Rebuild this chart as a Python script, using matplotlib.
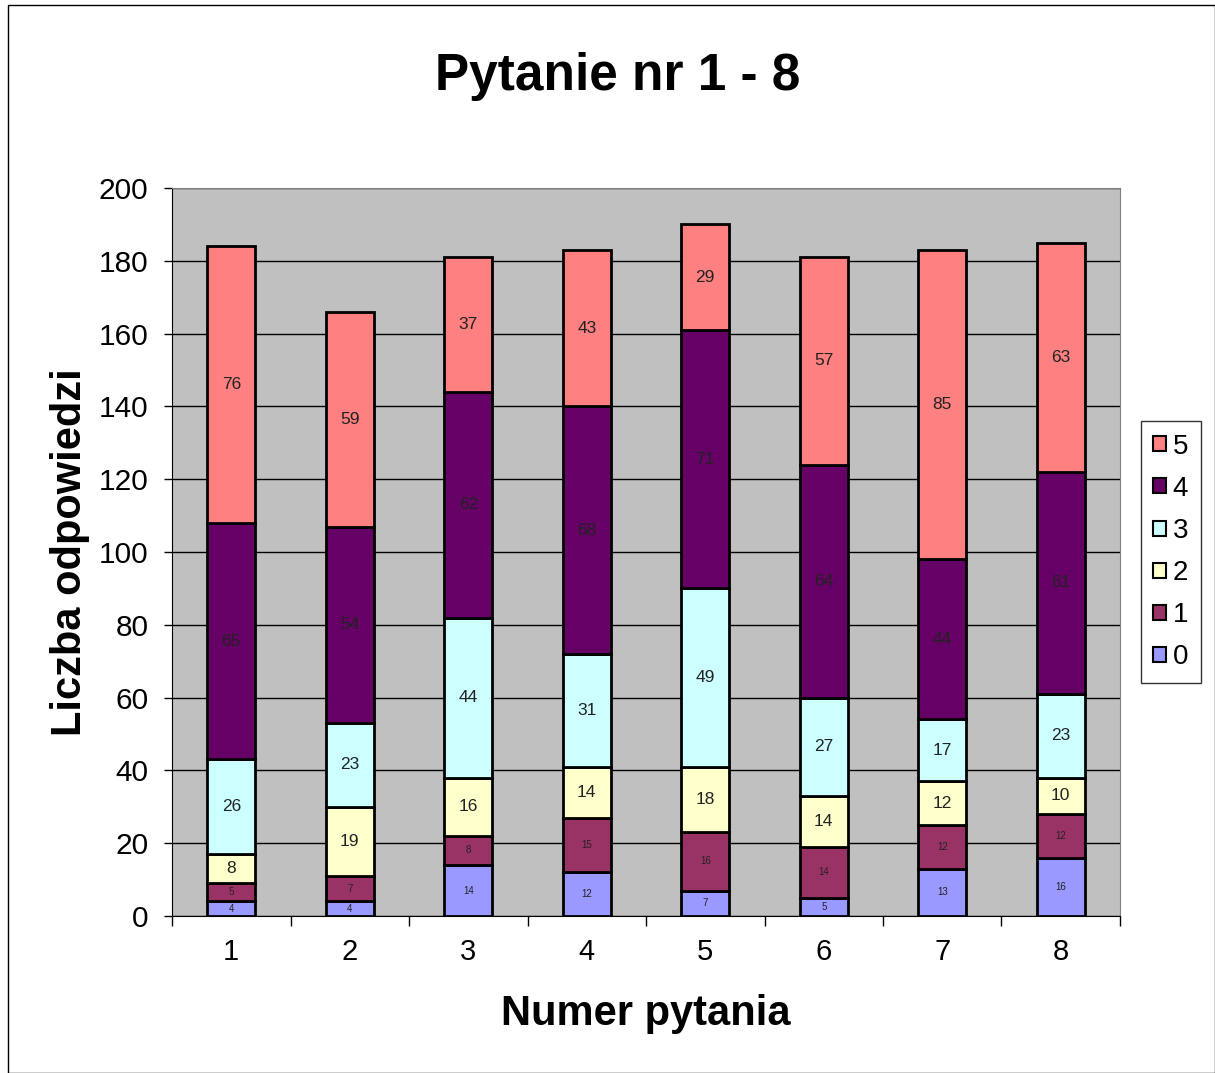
import matplotlib.pyplot as plt
import numpy as np
from matplotlib.patches import Rectangle

plt.rcParams['font.family'] = ['Liberation Sans', 'DejaVu Sans']

questions = ['1', '2', '3', '4', '5', '6', '7', '8']
answers = ['0', '1', '2', '3', '4', '5']
a0 = [4, 4, 14, 12, 7, 5, 13, 16]
a1 = [5, 7, 8, 15, 16, 14, 12, 12]
a2 = [8, 19, 16, 14, 18, 14, 12, 10]
a3 = [26, 23, 44, 31, 49, 27, 17, 23]
a4 = [65, 54, 62, 68, 71, 64, 44, 61]
a5 = [76, 59, 37, 43, 29, 57, 85, 63]
colors = ['#9999FF', '#993366', '#FFFFCC', '#CCFFFF', '#660066', '#FF8080']

series = [a0, a1, a2, a3, a4, a5]

fig = plt.figure(figsize=(12.15, 10.73), dpi=100)
ax = fig.add_axes([0.1416, 0.1463, 0.7802, 0.6785])
ax.set_facecolor('#C0C0C0')

x = np.arange(1, len(questions) + 1)
bottom = np.zeros(len(questions))
handles = []
for i, vals in enumerate(series):
    vals = np.array(vals)
    bars = ax.bar(x, vals, 0.405, bottom=bottom, color=colors[i],
                  edgecolor='black', linewidth=2, zorder=3, label=answers[i])
    handles.append(bars)
    size = 7 if i < 2 else 12.5
    for xi, b, v in zip(x, bottom, vals):
        ax.text(xi, b + v / 2, str(v), ha='center', va='center',
                fontsize=size, color='#222222', zorder=4)
    bottom += vals

ax.set_xlim(0.5, 8.5)
ax.set_ylim(0, 200)
ax.set_yticks(np.arange(0, 201, 20))
ax.yaxis.grid(True, color='black', linewidth=1, zorder=0)
ax.set_axisbelow(True)

ax.set_xticks(np.arange(0.5, 8.6, 1))
ax.set_xticklabels([])
ax.set_xticks(x, minor=True)
ax.set_xticklabels(questions, minor=True)
ax.tick_params(axis='x', which='major', length=7, width=1)
ax.tick_params(axis='x', which='minor', length=0, labelsize=21, pad=16)
ax.tick_params(axis='y', length=6, width=1, labelsize=21.5, pad=11)

for s in ['top', 'right']:
    ax.spines[s].set_color('#808080')
for s in ['left', 'bottom']:
    ax.spines[s].set_color('black')

ax.set_xlabel('Numer pytania', fontsize=30, fontweight='bold', labelpad=20)
ax.set_ylabel('Liczba odpowiedzi', fontsize=30, fontweight='bold', labelpad=6)
fig.text(0.508, 0.929, 'Pytanie nr 1 - 8', ha='center', va='center',
         fontsize=37, fontweight='bold')

leg = ax.legend(handles[::-1], answers[::-1], loc='center left',
                bbox_to_anchor=(1.022, 0.5), fontsize=20, frameon=True,
                fancybox=False, edgecolor='black', handlelength=0.45,
                handleheight=0.45, handletextpad=0.25, labelspacing=0.58,
                borderpad=0.45, borderaxespad=0)
leg.get_frame().set_linewidth(1)
for h in leg.legend_handles:
    h.set_linewidth(1.5)

fig.patches.append(Rectangle((8 / 1215, 0), 1 - 8 / 1215, 1 - 5 / 1073,
                             transform=fig.transFigure, fill=False,
                             edgecolor='black', linewidth=1))

fig.savefig('out.png')
